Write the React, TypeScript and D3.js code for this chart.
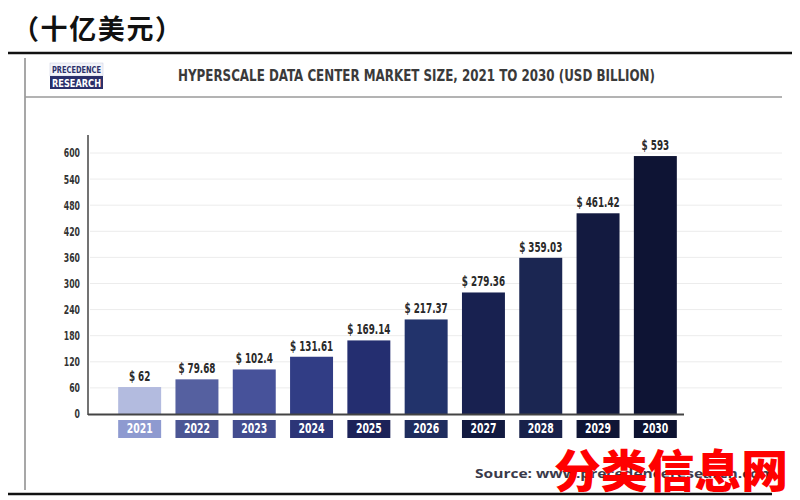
import React from "react";
import * as d3 from "d3";

const years = ["2021", "2022", "2023", "2024", "2025", "2026", "2027", "2028", "2029", "2030"];
const values = [62, 79.68, 102.4, 131.61, 169.14, 217.37, 279.36, 359.03, 461.42, 593];
const valueLabels = ["$ 62", "$ 79.68", "$ 102.4", "$ 131.61", "$ 169.14", "$ 217.37", "$ 279.36", "$ 359.03", "$ 461.42", "$ 593"];
const yTicks = [0, 60, 120, 180, 240, 300, 360, 420, 480, 540, 600];
const barColors = ["#b3bbdf", "#5560a0", "#47529a", "#313d85", "#242e70", "#22336b", "#182150", "#1b2652", "#131a40", "#0e1434"];
const boxColors = ["#8e9ad0", "#4c5694", "#434d8f", "#2c3577", "#1c2258", "#1f2d5e", "#121a40", "#18214a", "#0f1535", "#0d1230"];

const condensed = "'Liberation Sans Narrow', 'DejaVu Sans Condensed', 'Liberation Sans', sans-serif";

function CText(props: { x: number; y: number; sx?: number; anchor?: string; size: number; fill: string; children: React.ReactNode; baseline?: string }) {
  const { x, y, sx = 0.8, anchor = "middle", size, fill, children, baseline } = props;
  return (
    <text
      transform={`translate(${x},${y}) scale(${sx},1)`}
      textAnchor={anchor}
      dominantBaseline={baseline}
      fontFamily={condensed}
      fontSize={size}
      fontWeight={700}
      fill={fill}
    >
      {children}
    </text>
  );
}

export default function App() {
  const x = d3.scaleBand<string>().domain(years).range([111, 684]).paddingInner(0.25).paddingOuter(0.125);
  const y = d3.scaleLinear().domain([0, 600]).range([414, 153]);
  const bw = x.bandwidth();

  return (
    <svg width={800} height={500} style={{ position: "absolute", left: 0, top: 0, background: "#fff" }}>
      <rect x={0} y={0} width={800} height={500} fill="#fff" />
      {/* Chinese unit title */}
      <text x={12} y={39} fontFamily="'Noto Sans CJK SC', sans-serif" fontSize={27} fontWeight={700} fill="#111" textLength={170} lengthAdjust="spacing">（十亿美元）</text>
      <line x1={8} x2={792} y1={53} y2={53} stroke="#111" strokeWidth={2.5} />

      {/* frame lines */}
      <line x1={25} x2={25} y1={58} y2={490} stroke="#8a8a8a" strokeWidth={1.5} />
      <line x1={25} x2={782} y1={97} y2={97} stroke="#9a9a9a" strokeWidth={1.5} />

      {/* logo */}
      <rect x={50} y={63} width={53} height={13} fill="#f2f3f8" stroke="#c8cbe0" strokeWidth={0.5} />
      <text x={76.5} y={73} textAnchor="middle" fontFamily={condensed} fontSize={9} fontWeight={700} fill="#2a2f6a" textLength={49} lengthAdjust="spacingAndGlyphs">PRECEDENCE</text>
      <rect x={50} y={76} width={53} height={13} fill="#2a2f6a" />
      <text x={76.5} y={86.5} textAnchor="middle" fontFamily={condensed} fontSize={10} fontWeight={700} fill="#fff" textLength={49} lengthAdjust="spacingAndGlyphs">RESEARCH</text>

      {/* chart title */}
      <text x={178} y={81} fontFamily={condensed} fontSize={16} fontWeight={700} fill="#3a3a3a" textLength={477} lengthAdjust="spacingAndGlyphs">HYPERSCALE DATA CENTER MARKET SIZE, 2021 TO 2030 (USD BILLION)</text>

      {/* gridlines */}
      {yTicks.filter(t => t > 0).map(t => (
        <line key={"g" + t} x1={90} x2={782} y1={y(t)} y2={y(t)} stroke="#ececec" strokeWidth={1} />
      ))}

      {/* y tick labels */}
      {yTicks.map(t => (
        <CText key={"t" + t} x={80} y={y(t) + 1} anchor="end" baseline="middle" size={12} sx={0.72} fill="#333">{t}</CText>
      ))}

      {/* bars */}
      {years.map((yr, i) => (
        <rect key={"b" + yr} x={x(yr)} y={y(values[i])} width={bw} height={y(0) - y(values[i])} fill={barColors[i]} />
      ))}

      {/* value labels */}
      {years.map((yr, i) => (
        <CText key={"v" + yr} x={(x(yr) as number) + bw / 2} y={y(values[i]) - 6} size={14} sx={0.7} fill="#2a2a2a">{valueLabels[i]}</CText>
      ))}

      {/* axes */}
      <line x1={88} x2={88} y1={135} y2={415} stroke="#444" strokeWidth={1.5} />
      <line x1={88} x2={684} y1={414.5} y2={414.5} stroke="#444" strokeWidth={2} />

      {/* year boxes */}
      {years.map((yr, i) => (
        <g key={"c" + yr}>
          <rect x={x(yr)} y={420} width={bw} height={18} fill={boxColors[i]} />
          <CText x={(x(yr) as number) + bw / 2} y={429.5} baseline="middle" size={14} sx={0.74} fill="#fff">{yr}</CText>
        </g>
      ))}

      {/* source */}
      <text x={475} y={478} fontFamily="'Open Sans', 'Noto Sans', sans-serif" fontSize={13} fontWeight={700} fill="#3a3a4a" textLength={300} lengthAdjust="spacingAndGlyphs">Source: www.precedenceresearch.com</text>
      <line x1={8} x2={772} y1={494} y2={494} stroke="#111" strokeWidth={2.5} />

      {/* watermark */}
      <text x={554} y={488} fontFamily="'Noto Sans CJK SC', sans-serif" fontSize={45} fontWeight={900} fill="#ff0000" textLength={234} lengthAdjust="spacingAndGlyphs">分类信息网</text>
    </svg>
  );
}
